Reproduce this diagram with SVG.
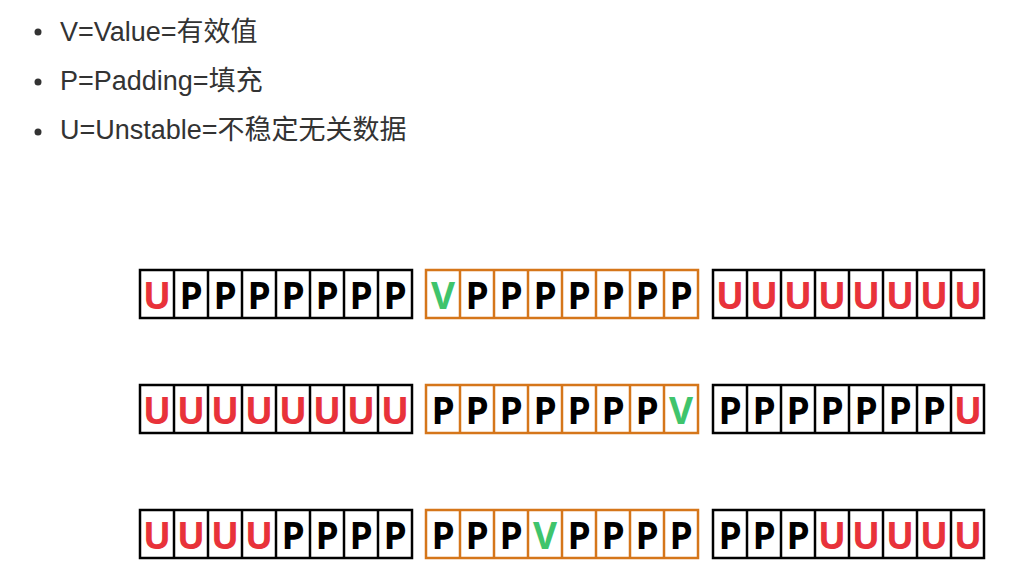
<svg xmlns="http://www.w3.org/2000/svg" width="1025" height="586" viewBox="0 0 1025 586">
<style>
.lg{font-family:"Liberation Sans","Noto Sans CJK SC",sans-serif;font-size:27px;fill:#333}
.bul{fill:#333}
.bk{fill:#fff;stroke:#000;stroke-width:2.5}
.or{fill:#fff;stroke:#d5761a;stroke-width:2.5}
.dk{stroke:#000;stroke-width:2.5}
.do{stroke:#d5761a;stroke-width:2.5}
.c{font-family:"Open Sans","Liberation Sans",sans-serif;font-weight:700;font-size:37px;text-anchor:middle}
.P{fill:#000}.U{fill:#e8323a}.V{fill:#3fc46c}
</style>
<defs>
<g id="divk"><line class="dk" x1="34" y1="0" x2="34" y2="48"/><line class="dk" x1="68" y1="0" x2="68" y2="48"/><line class="dk" x1="102" y1="0" x2="102" y2="48"/><line class="dk" x1="136" y1="0" x2="136" y2="48"/><line class="dk" x1="170" y1="0" x2="170" y2="48"/><line class="dk" x1="204" y1="0" x2="204" y2="48"/><line class="dk" x1="238" y1="0" x2="238" y2="48"/></g>
<g id="divo"><line class="do" x1="34" y1="0" x2="34" y2="48"/><line class="do" x1="68" y1="0" x2="68" y2="48"/><line class="do" x1="102" y1="0" x2="102" y2="48"/><line class="do" x1="136" y1="0" x2="136" y2="48"/><line class="do" x1="170" y1="0" x2="170" y2="48"/><line class="do" x1="204" y1="0" x2="204" y2="48"/><line class="do" x1="238" y1="0" x2="238" y2="48"/></g>
</defs>
<g id="legend">
<circle class="bul" cx="38" cy="32" r="3.5"/>
<text class="lg" x="60" y="41">V=Value=有效值</text>
<circle class="bul" cx="38" cy="82" r="3.5"/>
<text class="lg" x="60" y="90">P=Padding=填充</text>
<circle class="bul" cx="38" cy="132" r="3.5"/>
<text class="lg" x="60" y="139">U=Unstable=不稳定无关数据</text>
</g>

<g id="r1a" transform="translate(140,270)">
<rect class="bk" x="0" y="0" width="272" height="48"/><use href="#divk"/>
<text class="c" y="39"><tspan class="U" x="17">U</tspan><tspan class="P" x="51">P</tspan><tspan class="P" x="85">P</tspan><tspan class="P" x="119">P</tspan><tspan class="P" x="153">P</tspan><tspan class="P" x="187">P</tspan><tspan class="P" x="221">P</tspan><tspan class="P" x="255">P</tspan></text>
</g>
<g id="r1b" transform="translate(426,270)">
<rect class="or" x="0" y="0" width="272" height="48"/><use href="#divo"/>
<text class="c" y="39"><tspan class="V" x="17">V</tspan><tspan class="P" x="51">P</tspan><tspan class="P" x="85">P</tspan><tspan class="P" x="119">P</tspan><tspan class="P" x="153">P</tspan><tspan class="P" x="187">P</tspan><tspan class="P" x="221">P</tspan><tspan class="P" x="255">P</tspan></text>
</g>
<g id="r1c" transform="translate(713,270)">
<rect class="bk" x="0" y="0" width="271" height="48"/><use href="#divk"/>
<text class="c U" y="39"><tspan x="17">U</tspan><tspan x="51">U</tspan><tspan x="85">U</tspan><tspan x="119">U</tspan><tspan x="153">U</tspan><tspan x="187">U</tspan><tspan x="221">U</tspan><tspan x="255">U</tspan></text>
</g>

<g id="r2a" transform="translate(140,385)">
<rect class="bk" x="0" y="0" width="272" height="48"/><use href="#divk"/>
<text class="c U" y="39"><tspan x="17">U</tspan><tspan x="51">U</tspan><tspan x="85">U</tspan><tspan x="119">U</tspan><tspan x="153">U</tspan><tspan x="187">U</tspan><tspan x="221">U</tspan><tspan x="255">U</tspan></text>
</g>
<g id="r2b" transform="translate(426,385)">
<rect class="or" x="0" y="0" width="272" height="48"/><use href="#divo"/>
<text class="c" y="39"><tspan class="P" x="17">P</tspan><tspan class="P" x="51">P</tspan><tspan class="P" x="85">P</tspan><tspan class="P" x="119">P</tspan><tspan class="P" x="153">P</tspan><tspan class="P" x="187">P</tspan><tspan class="P" x="221">P</tspan><tspan class="V" x="255">V</tspan></text>
</g>
<g id="r2c" transform="translate(713,385)">
<rect class="bk" x="0" y="0" width="271" height="48"/><use href="#divk"/>
<text class="c" y="39"><tspan class="P" x="17">P</tspan><tspan class="P" x="51">P</tspan><tspan class="P" x="85">P</tspan><tspan class="P" x="119">P</tspan><tspan class="P" x="153">P</tspan><tspan class="P" x="187">P</tspan><tspan class="P" x="221">P</tspan><tspan class="U" x="255">U</tspan></text>
</g>

<g id="r3a" transform="translate(140,510)">
<rect class="bk" x="0" y="0" width="272" height="48"/><use href="#divk"/>
<text class="c" y="39"><tspan class="U" x="17">U</tspan><tspan class="U" x="51">U</tspan><tspan class="U" x="85">U</tspan><tspan class="U" x="119">U</tspan><tspan class="P" x="153">P</tspan><tspan class="P" x="187">P</tspan><tspan class="P" x="221">P</tspan><tspan class="P" x="255">P</tspan></text>
</g>
<g id="r3b" transform="translate(426,510)">
<rect class="or" x="0" y="0" width="272" height="48"/><use href="#divo"/>
<text class="c" y="39"><tspan class="P" x="17">P</tspan><tspan class="P" x="51">P</tspan><tspan class="P" x="85">P</tspan><tspan class="V" x="119">V</tspan><tspan class="P" x="153">P</tspan><tspan class="P" x="187">P</tspan><tspan class="P" x="221">P</tspan><tspan class="P" x="255">P</tspan></text>
</g>
<g id="r3c" transform="translate(713,510)">
<rect class="bk" x="0" y="0" width="271" height="48"/><use href="#divk"/>
<text class="c" y="39"><tspan class="P" x="17">P</tspan><tspan class="P" x="51">P</tspan><tspan class="P" x="85">P</tspan><tspan class="U" x="119">U</tspan><tspan class="U" x="153">U</tspan><tspan class="U" x="187">U</tspan><tspan class="U" x="221">U</tspan><tspan class="U" x="255">U</tspan></text>
</g>
</svg>
